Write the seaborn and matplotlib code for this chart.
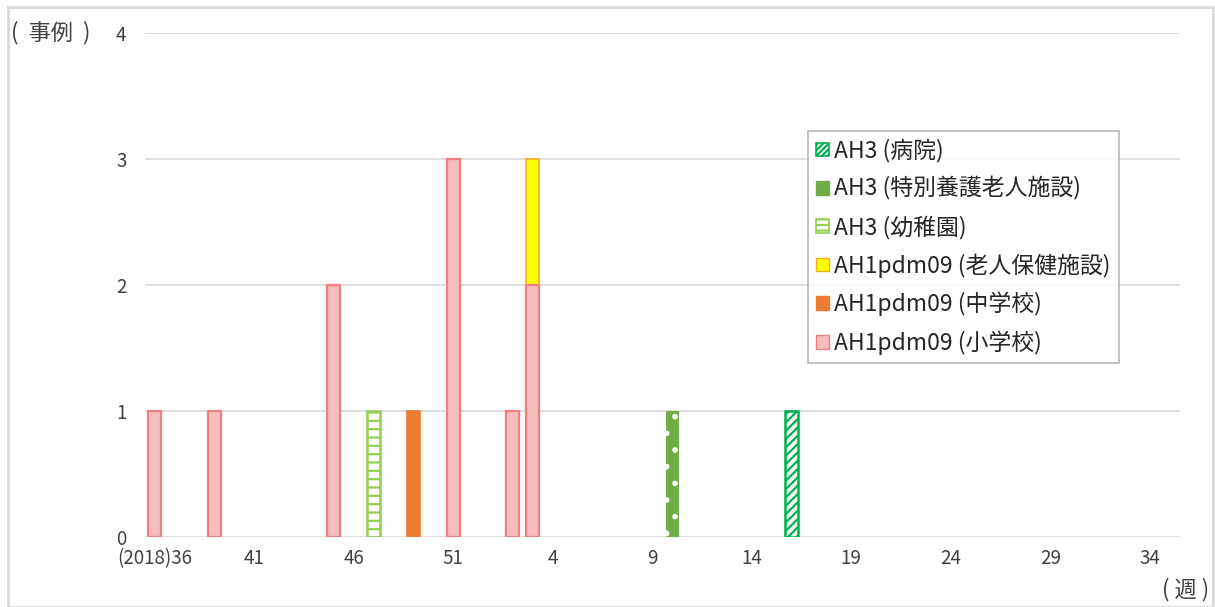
import matplotlib
matplotlib.use('Agg')
import matplotlib.pyplot as plt
from matplotlib.patches import Patch, Rectangle
import pandas as pd
import seaborn as sns

# week categories: 2018 week 36 .. 2019 week 35
weeks_2018 = list(range(36, 53))
weeks_2019 = list(range(1, 36))
week_order = [str(w) for w in weeks_2018 + weeks_2019]
tick_weeks = ['36', '41', '46', '51', '4', '9', '14', '19', '24', '29', '34']
tick_labels = ['(2018)36', '41', '46', '51', '4', '9', '14', '19', '24', '29', '34']

# outbreaks per week, by subtype (facility)
pink_weeks = ['36', '39', '45', '51', '2', '3']
pink_counts = [1, 1, 2, 3, 1, 2]          # AH1pdm09 (小学校)
orange_weeks = ['49']
orange_counts = [1]                       # AH1pdm09 (中学校)
yellow_weeks = ['3']
yellow_counts = [1]                       # AH1pdm09 (老人保健施設)
kinder_weeks = ['47']
kinder_counts = [1]                       # AH3 (幼稚園)
nursing_weeks = ['10']
nursing_counts = [1]                      # AH3 (特別養護老人施設)
hospital_weeks = ['16']
hospital_counts = [1]                     # AH3 (病院)

plt.rcParams['hatch.linewidth'] = 1.6
sns.set_style('white')
plt.rcParams['font.family'] = ['Noto Sans CJK JP', 'DejaVu Sans']

fig = plt.figure(figsize=(12.15, 6.07), dpi=100)
ax = fig.add_axes([0.119, 0.1153, 0.852, 0.8303])

W = 0.66
common = dict(order=week_order, width=W, errorbar=None, saturation=1, ax=ax)

# yellow stacks on top of pink -> plot cumulative first
pink = pd.DataFrame({'week': pink_weeks, 'n': pink_counts})
yellow = pd.DataFrame({'week': yellow_weeks, 'n': yellow_counts})
yellow['top'] = yellow['n'] + yellow['week'].map(dict(zip(pink_weeks, pink_counts))).fillna(0)

sns.barplot(data=yellow, x='week', y='top', color='#FFFF00', edgecolor='#F2B01E', linewidth=1.2, **common)
sns.barplot(data=pink, x='week', y='n', color='#F8BDBD', edgecolor='#EE8080', linewidth=1.6, **common)
sns.barplot(x=orange_weeks, y=orange_counts, color='#ED7D31', edgecolor='#ED7D31', linewidth=1.2, **common)
sns.barplot(x=kinder_weeks, y=kinder_counts, color='white', edgecolor='#92D050', hatch='--', linewidth=1.8, **common)
sns.barplot(x=nursing_weeks, y=nursing_counts, color='#70AD47', edgecolor='white', hatch='.', linewidth=0, **common)
sns.barplot(x=hospital_weeks, y=hospital_counts, color='white', edgecolor='#00B050', hatch='////', linewidth=1.8, **common)

ax.set_xlim(-0.5, len(week_order) - 0.5)
ax.set_ylim(0, 4)
ax.set_yticks([0, 1, 2, 3, 4])
ax.yaxis.grid(True, color='#D9D9D9', linewidth=1.2)
ax.set_axisbelow(True)
for s in ax.spines.values():
    s.set_visible(False)
ax.set_xticks([week_order.index(w) for w in tick_weeks])
ax.set_xticklabels(tick_labels)
ax.tick_params(axis='both', length=0, labelsize=13.5, labelcolor='#404040')
ax.tick_params(axis='y', pad=13)
ax.tick_params(axis='x', pad=8)
ax.set_xlabel('')
ax.set_ylabel('')

fig.text(0.009, 1 - 33 / 607, '(  事例  )', fontsize=16, color='#404040', va='center', ha='left')
fig.text(0.995, 1 - 590 / 607, '( 週 )', fontsize=16, color='#404040', va='center', ha='right')

handles = [
    Patch(facecolor='white', edgecolor='#00B050', hatch='//////', linewidth=1.2, label='AH3 (病院)'),
    Patch(facecolor='#70AD47', edgecolor='#70AD47', label='AH3 (特別養護老人施設)'),
    Patch(facecolor='white', edgecolor='#92D050', hatch='---', linewidth=1.2, label='AH3 (幼稚園)'),
    Patch(facecolor='#FFFF00', edgecolor='#F2B01E', label='AH1pdm09 (老人保健施設)'),
    Patch(facecolor='#ED7D31', edgecolor='#ED7D31', label='AH1pdm09 (中学校)'),
    Patch(facecolor='#F8BDBD', edgecolor='#EE8080', label='AH1pdm09 (小学校)'),
]
leg = ax.legend(handles=handles, loc='upper left', bbox_to_anchor=(0.641, 0.806),
                fontsize=16.5, frameon=True, fancybox=False, edgecolor='#A6A6A6',
                handlelength=0.55, handleheight=0.55, handletextpad=0.25,
                labelspacing=0.62, borderpad=0.35, borderaxespad=0)
leg.get_frame().set_linewidth(1.2)
for t in leg.get_texts():
    t.set_color('#262626')

fig.patches.append(Rectangle((8 / 1215, 0), 1 - 10 / 1215, 1 - 7 / 607, transform=fig.transFigure,
                             fill=False, edgecolor='#D9D9D9', linewidth=2))

fig.savefig('out.png', dpi=100)
